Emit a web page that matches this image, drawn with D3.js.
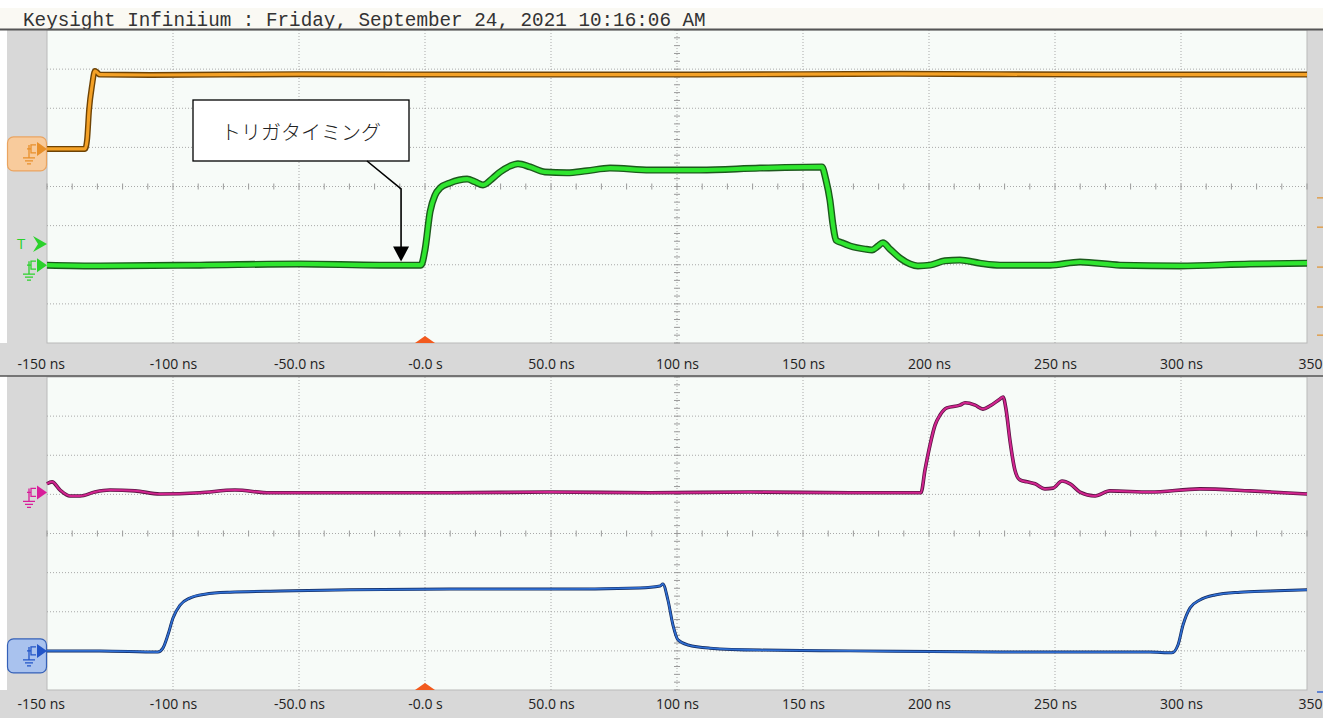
<!DOCTYPE html>
<html>
<head>
<meta charset="utf-8">
<script src="https://cdn.jsdelivr.net/npm/d3@7"></script>
<style>
  body { margin: 0; background: #ffffff; }
  svg { display: block; }
</style>
</head>
<body>
<div id="chart"></div>
<script>
// time axis (ns)
const xTicks = [-150, -100, -50, 0, 50, 100, 150, 200, 250, 300, 350];
const xTickLabels = ["-150 ns", "-100 ns", "-50.0 ns", "-0.0 s", "50.0 ns", "100 ns", "150 ns", "200 ns", "250 ns", "300 ns", "350"];

// levels are in screen divisions (0 = bottom grid line, 8 = top)
const ch1Time = [-150, -134.9, -134.1, -133.3, -132.1, -131.0, -130.2, -129, -109, -50, 30, 109, 188, 268, 350];
const ch1Level = [4.96, 4.96, 5.19, 5.96, 6.59, 6.95, 6.92, 6.86, 6.85, 6.87, 6.86, 6.86, 6.88, 6.86, 6.86];

const ch2Time = [-150, -129, -89.3, -49.6, -17.9, -1.6, 0, 2.0, 4.0, 5.95, 9.9, 16.7, 19.8, 23.0, 27.0, 29.8, 33.7, 36.9, 41.7, 47.6, 56.3, 64.3, 73.4, 89.3, 109.1, 132.9, 157.5, 159.1, 160.7, 161.9, 163.1, 165.5, 168.7, 174.6, 177.4, 179.8, 181.7, 184.5, 188.5, 192.5, 195.6, 200.4, 206.3, 212.3, 220.2, 228.2, 248.0, 259.9, 275.8, 299.6, 327.4, 350];
const ch2Level = [1.99, 1.97, 1.99, 2.02, 1.99, 1.99, 2.38, 3.35, 3.78, 3.96, 4.09, 4.19, 4.12, 4.04, 4.22, 4.37, 4.52, 4.58, 4.50, 4.37, 4.35, 4.40, 4.47, 4.42, 4.42, 4.47, 4.50, 4.17, 3.65, 3.02, 2.63, 2.56, 2.48, 2.40, 2.38, 2.48, 2.56, 2.40, 2.17, 2.02, 1.97, 1.99, 2.10, 2.12, 2.04, 1.99, 1.99, 2.07, 1.99, 1.97, 2.02, 2.04];

const ch4Time = [-150, -148, -144.8, -140.9, -136.9, -131, -125, -115.1, -105.2, -89.3, -75.4, -61.5, -29.8, 9.9, 49.6, 89.3, 129, 168.7, 196.8, 198.4, 200.4, 202.4, 204.4, 207.1, 212.3, 214.3, 218.3, 221.4, 224.2, 228.2, 229.4, 230.6, 232.1, 234.1, 236.1, 238.9, 242.1, 246.0, 249.2, 252.8, 256.0, 259.9, 265.9, 271.8, 287.7, 307.5, 327.4, 350];
const ch4Level = [5.27, 5.32, 5.11, 4.96, 4.96, 5.06, 5.11, 5.09, 5.01, 5.04, 5.11, 5.04, 5.04, 5.04, 5.06, 5.04, 5.06, 5.04, 5.04, 5.62, 6.26, 6.77, 7.03, 7.21, 7.28, 7.34, 7.28, 7.18, 7.26, 7.44, 7.49, 7.16, 6.39, 5.62, 5.37, 5.32, 5.27, 5.14, 5.16, 5.34, 5.27, 5.06, 4.96, 5.09, 5.06, 5.14, 5.09, 5.01];

const ch3Time = [-150, -129, -106, -104, -102, -100, -97.2, -93.3, -87.3, -77.4, -57.5, -29.8, 9.9, 49.6, 85.3, 93.3, 94.4, 96.4, 98.4, 100.4, 104.4, 113.1, 133, 168.7, 228.2, 287.7, 296.4, 298.8, 300.8, 303.6, 307.5, 313.5, 323.4, 335.3, 350];
const ch3Level = [1.00, 1.00, 0.97, 1.07, 1.41, 1.84, 2.17, 2.35, 2.45, 2.50, 2.53, 2.56, 2.58, 2.58, 2.61, 2.66, 2.71, 2.30, 1.66, 1.28, 1.15, 1.07, 1.02, 1.00, 0.97, 0.97, 0.95, 1.15, 1.66, 2.10, 2.30, 2.43, 2.50, 2.53, 2.56];

// small offset marks on the right edge of the top panel
const rightMarks = [3.71, 2.96, 1.94, 0.92, 0.2];

const width = 1323, height = 718;
const plotLeft = 47, plotRight = 1307;
const panels = [
  { y0: 30, y1: 343, labelY: 370 },
  { y0: 377, y1: 690, labelY: 710 }
];

const svg = d3.select("#chart").append("svg")
  .attr("width", width)
  .attr("height", height)
  .style("font-family", "'Open Sans', 'Noto Sans', sans-serif");

const x = d3.scaleLinear().domain([-150, 350]).range([plotLeft, plotRight]);

// header
svg.append("rect").attr("x", 0).attr("y", 8).attr("width", width).attr("height", 21).attr("fill", "#faf9f3");
svg.append("text")
  .attr("x", 23).attr("y", 26)
  .attr("font-family", "'Liberation Mono', 'DejaVu Sans Mono', monospace")
  .attr("font-size", 19.3)
  .attr("fill", "#333")
  .text("Keysight Infiniium : Friday, September 24, 2021 10:16:06 AM");

// gray frame
svg.append("rect").attr("x", 7).attr("y", 30).attr("width", width - 7).attr("height", height - 30).attr("fill", "#d8d8d8");
svg.append("rect").attr("x", 0).attr("y", 343).attr("width", width).attr("height", 33).attr("fill", "#d8d8d8");
svg.append("rect").attr("x", 0).attr("y", 690).attr("width", width).attr("height", 28).attr("fill", "#d8d8d8");

const line = d3.line()
  .x((d) => x(d[0]))
  .curve(d3.curveMonotoneX);

function drawPanel(p) {
  const y = d3.scaleLinear().domain([0, 8]).range([p.y1, p.y0]);
  const g = svg.append("g");

  g.append("rect")
    .attr("x", plotLeft).attr("y", p.y0)
    .attr("width", plotRight - plotLeft).attr("height", p.y1 - p.y0)
    .attr("fill", "#f7fbf8")
    .attr("stroke", "#b9b9b9");

  // dotted grid
  g.selectAll(".vgrid").data(xTicks.slice(1, -1)).enter().append("line")
    .attr("x1", (d) => x(d)).attr("x2", (d) => x(d))
    .attr("y1", p.y0).attr("y2", p.y1)
    .attr("stroke", "#a9a9a9").attr("stroke-dasharray", "1,2");
  g.selectAll(".hgrid").data(d3.range(1, 8)).enter().append("line")
    .attr("x1", plotLeft).attr("x2", plotRight)
    .attr("y1", (d) => y(d)).attr("y2", (d) => y(d))
    .attr("stroke", "#a9a9a9").attr("stroke-dasharray", "1,2");

  // minor ticks on the centre lines
  const minorX = d3.range(-150, 350.1, 10);
  g.selectAll(".mx").data(minorX).enter().append("line")
    .attr("x1", (d) => x(d)).attr("x2", (d) => x(d))
    .attr("y1", y(4) - 3).attr("y2", y(4) + 3)
    .attr("stroke", "#9a9a9a");
  const minorY = d3.range(0, 8.01, 0.2);
  g.selectAll(".my").data(minorY).enter().append("line")
    .attr("x1", x(100) - 3).attr("x2", x(100) + 3)
    .attr("y1", (d) => y(d)).attr("y2", (d) => y(d))
    .attr("stroke", "#9a9a9a");

  // axis labels
  const axis = g.append("g")
    .attr("transform", `translate(0,${p.labelY - 5})`)
    .call(d3.axisBottom(x).tickValues(xTicks).tickSize(0).tickFormat((d, i) => xTickLabels[i]));
  axis.select(".domain").remove();
  axis.selectAll("text")
    .attr("y", 0).attr("dy", "0.32em")
    .attr("font-family", "'Open Sans', 'Noto Sans', sans-serif")
    .attr("font-size", 14)
    .attr("fill", "#222");
  axis.selectAll(".tick").filter((d) => d === -150).select("text").attr("text-anchor", "start").attr("x", -30);
  axis.selectAll(".tick").filter((d) => d === 350).select("text").attr("text-anchor", "end").attr("x", 15);

  // trigger position
  g.append("path")
    .attr("d", `M${x(0) - 10},${p.y1} L${x(0)},${p.y1 - 7} L${x(0) + 10},${p.y1} Z`)
    .attr("fill", "#f25a1e");

  return y;
}

const yTop = drawPanel(panels[0]);
const yBot = drawPanel(panels[1]);

// separator lines
svg.append("line").attr("x1", 0).attr("x2", width).attr("y1", 29.5).attr("y2", 29.5).attr("stroke", "#555").attr("stroke-width", 2);
svg.append("line").attr("x1", 0).attr("x2", width).attr("y1", 376).attr("y2", 376).attr("stroke", "#555").attr("stroke-width", 1.5);

function trace(times, levels, y, dark, bright, wDark, wBright) {
  const pts = times.map((t, i) => [t, levels[i]]);
  const path = line.y((d) => y(d[1]));
  svg.append("path").attr("d", path(pts)).attr("fill", "none")
    .attr("stroke", dark).attr("stroke-width", wDark).attr("stroke-linejoin", "round");
  svg.append("path").attr("d", path(pts)).attr("fill", "none")
    .attr("stroke", bright).attr("stroke-width", wBright).attr("stroke-linejoin", "round");
}

trace(ch1Time, ch1Level, yTop, "#6e4305", "#f4a126", 6, 3.2);
trace(ch2Time, ch2Level, yTop, "#1c5a1c", "#2fe52f", 7, 4.2);
trace(ch4Time, ch4Level, yBot, "#5c1444", "#d2248f", 3.6, 2);
trace(ch3Time, ch3Level, yBot, "#11285c", "#2f6ed2", 3, 1.7);

// right-edge marks
svg.selectAll(".rm").data(rightMarks).enter().append("line")
  .attr("x1", 1317).attr("x2", width)
  .attr("y1", (d) => yTop(d)).attr("y2", (d) => yTop(d))
  .attr("stroke", "#e0a050").attr("stroke-width", 1.5);
svg.append("line").attr("x1", 1317).attr("x2", width)
  .attr("y1", 692).attr("y2", 692).attr("stroke", "#3a6ad0").attr("stroke-width", 1.5);

// channel ground markers on the left
function groundMarker(cy, color, box) {
  const g = svg.append("g");
  if (box) {
    g.append("rect").attr("x", 7.5).attr("y", cy - 12).attr("width", 39).attr("height", 34).attr("rx", 6)
      .attr("fill", box.fill).attr("stroke", box.stroke).attr("stroke-width", 1.2);
  }
  g.append("path").attr("d", `M37,${cy - 7} L47,${cy} L37,${cy + 7} Z`).attr("fill", color);
  g.append("path")
    .attr("d", `M36,${cy - 4} H31 V${cy + 4} H36 M31,${cy} H27 M29,${cy - 4} V${cy + 9} M23,${cy + 9} H35 M25,${cy + 12} H33 M27,${cy + 15} H31`)
    .attr("fill", "none").attr("stroke", color).attr("stroke-width", 1.3);
}

groundMarker(yTop(ch1Level[0]), "#e8902a", { fill: "#f8cb9c", stroke: "#eaa460" });
groundMarker(yTop(ch2Level[0]), "#2bd12b", null);
groundMarker(yBot(5.05), "#d81e9a", null);
groundMarker(yBot(ch3Level[0]), "#2255c8", { fill: "#a9c2ee", stroke: "#3460b8" });

// trigger level marker
const tY = yTop(2.53);
svg.append("path").attr("d", `M33,${tY - 8} L47,${tY} L33,${tY + 8} L38,${tY} Z`).attr("fill", "#2bd12b");
svg.append("text").attr("x", 17).attr("y", tY + 5).attr("font-size", 15).attr("fill", "#2bd12b").text("T");

// annotation
const ann = svg.append("g");
ann.append("rect").attr("x", 193).attr("y", 100).attr("width", 216).attr("height", 61)
  .attr("fill", "#ffffff").attr("stroke", "#000").attr("stroke-width", 1.3);
ann.append("text").attr("x", 301).attr("y", 140).attr("text-anchor", "middle")
  .attr("font-family", "'Noto Sans CJK JP', sans-serif").attr("font-weight", 300)
  .attr("font-size", 20).attr("fill", "#222").text("トリガタイミング");
const tipX = x(-9.5), tipY = yTop(2.08);
ann.append("path").attr("d", `M367,161 L${tipX},189 L${tipX},${tipY - 14}`)
  .attr("fill", "none").attr("stroke", "#000").attr("stroke-width", 1.6);
ann.append("path").attr("d", `M${tipX - 8},${tipY - 15} L${tipX + 8},${tipY - 15} L${tipX},${tipY} Z`).attr("fill", "#000");
</script>
</body>
</html>
